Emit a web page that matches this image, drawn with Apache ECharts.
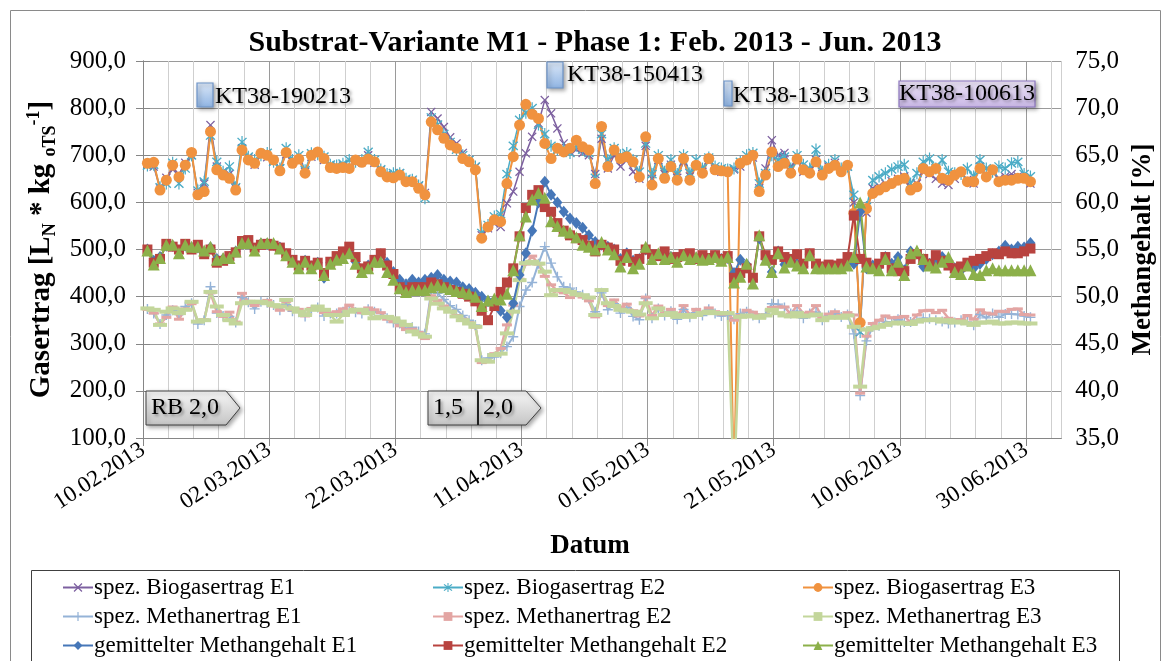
<!DOCTYPE html>
<html>
<head>
<meta charset="utf-8">
<script src="https://cdn.jsdelivr.net/npm/echarts@6/dist/echarts.min.js"></script>
<style>
  html, body { margin: 0; padding: 0; background: #fff; }
  #chart { width: 1165px; height: 661px; }
</style>
</head>
<body>
<div id="chart"></div>
<script>
// day 0 = 10.02.2013, one value per day
const dayOffset = 0.7
const xMax = 145.6

const biogasE1 = [680,676,630,652,670,660,684,700,620,640,
  764,676,665,660,630,715,695,680,700,696,
  688,672,702,686,690,665,697,704,690,678,
  674,678,676,684,690,700,684,668,660,656,
  662,648,646,634,620,792,778,760,738,725,
  705,690,675,530,545,555,548,598,623,665,
  704,739,768,817,789,757,725,707,712,705,
  700,660,735,672,700,676,690,665,650,720,
  650,690,660,680,652,686,655,676,665,690,
  670,665,668,670,676,690,695,630,672,732,
  700,705,676,690,665,668,690,660,676,684,
  670,676,600,325,578,630,635,640,645,650,
  655,632,640,665,660,650,640,637,650,662,
  648,640,676,658,668,650,655,660,655,650,
  640]

const biogasE2 = [678,680,632,640,684,640,672,700,625,644,
  742,686,665,676,632,728,697,690,700,705,
  686,672,715,690,700,668,704,702,697,680,
  678,682,690,686,690,707,690,670,660,662,
  662,650,648,636,609,780,765,745,728,712,
  700,690,676,535,552,570,575,660,720,775,
  790,800,765,745,720,712,715,705,720,712,
  705,652,745,690,715,700,705,690,665,725,
  660,700,665,690,660,700,662,690,672,695,
  676,672,670,672,686,700,705,640,662,700,
  690,697,672,700,680,672,712,665,680,690,
  672,676,616,325,590,647,655,662,670,676,
  680,640,662,686,693,672,690,665,662,660,
  672,655,690,672,665,676,672,683,686,660,
  655]

const biogasE3 = [683,685,626,647,679,654,679,706,616,623,
  750,669,658,651,626,711,690,683,704,700,
  690,667,706,683,692,662,700,707,693,674,
  672,674,672,690,685,692,686,665,654,652,
  658,644,644,630,616,771,754,736,722,715,
  693,686,669,524,548,563,559,640,697,764,
  808,787,778,725,693,715,707,715,732,718,
  711,640,761,676,711,693,697,686,654,739,
  637,693,651,676,647,693,647,679,662,693,
  669,667,665,0,683,690,700,623,658,707,
  676,683,662,692,669,662,686,658,672,679,
  665,679,577,345,587,619,626,633,640,647,
  651,626,633,672,665,672,651,647,658,665,
  644,644,672,654,669,644,647,647,651,651,
  644]

const methaneE1 = [374,364,342,361,371,362,379,386,342,350,
  421,365,359,358,345,398,388,374,389,387,
  382,371,383,369,367,358,371,377,359,364,
  364,368,370,367,364,373,368,364,354,345,
  343,332,335,326,321,412,407,394,381,373,
  360,350,340,265,270,272,280,294,315,379,
  414,430,470,506,471,442,421,418,410,404,
  396,368,408,372,385,365,377,358,351,396,
  354,375,360,369,352,373,356,366,360,373,
  364,359,361,352,364,368,360,354,363,385,
  384,377,364,369,354,364,367,350,360,364,
  357,362,321,190,306,336,338,347,345,352,
  346,346,350,354,353,350,347,343,345,350,
  346,339,362,355,364,356,363,363,362,359,
  356]

const methaneE2 = [373,365,342,356,378,352,374,385,347,351,
  408,368,358,367,346,407,390,381,389,392,
  380,371,390,372,373,359,375,376,366,365,
  368,374,382,372,366,376,372,366,352,347,
  338,330,331,324,311,402,392,380,369,360,
  352,345,335,260,262,279,290,340,382,437,
  469,486,469,443,425,412,408,398,405,399,
  391,357,413,381,393,377,384,370,359,399,
  360,380,364,373,358,381,361,373,366,376,
  368,363,364,350,360,371,367,361,360,377,
  378,378,363,381,364,367,381,354,363,368,
  360,366,361,195,316,343,350,359,355,356,
  358,346,361,370,371,366,371,354,351,351,
  360,352,372,365,363,369,368,373,374,362,
  361]

const methaneE3 = [375,372,340,368,375,365,372,389,347,350,
  410,379,361,350,343,386,389,389,389,386,
  382,379,393,375,368,361,372,379,372,361,
  347,361,368,372,372,365,354,357,357,354,
  347,340,326,320,315,396,385,375,368,358,
  350,343,336,265,262,276,279,322,368,435,
  471,474,470,453,403,414,414,410,405,403,
  398,361,414,386,380,372,370,368,362,386,
  354,375,361,365,357,361,357,361,365,368,
  365,365,365,0,357,360,358,355,360,372,
  365,360,358,365,358,360,362,350,355,357,
  355,360,336,209,330,333,336,340,343,345,
  343,342,347,350,350,352,347,350,345,347,
  343,340,345,345,347,343,343,345,345,343,
  343]

const contentE1 = [55.0,53.8,54.2,55.4,55.4,54.8,55.4,55.2,55.2,54.7,
  55.2,54.0,54.0,54.2,54.8,55.7,55.8,55.0,55.6,55.6,
  55.5,55.2,54.5,53.8,53.2,53.8,53.2,53.6,52.0,53.6,
  54.0,54.3,54.7,53.7,52.8,53.3,53.8,54.5,53.6,52.6,
  51.8,51.3,51.8,51.5,51.8,52.0,52.3,51.8,51.6,51.5,
  51.0,50.8,50.4,50.0,49.5,49.6,48.5,47.8,49.3,52.3,
  54.6,57.0,60.0,62.2,60.8,60.0,59.0,58.3,57.8,57.3,
  56.5,55.8,55.5,55.3,55.0,54.0,54.6,53.8,54.0,55.0,
  54.4,54.4,54.5,54.2,54.0,54.4,54.3,54.1,54.2,54.0,
  54.3,54.0,54.1,52.5,53.9,53.4,51.8,56.2,54.0,52.6,
  54.8,53.4,53.8,53.5,53.2,54.5,53.2,53.1,53.2,53.2,
  53.3,53.6,53.5,59.0,53.0,53.3,53.2,54.2,53.5,54.2,
  52.8,54.8,54.6,53.2,53.5,53.8,54.2,53.8,53.0,52.8,
  53.4,53.0,53.5,54.0,54.5,54.8,55.4,55.0,55.3,55.2,
  55.7]

const contentE2 = [55.0,53.6,54.0,55.6,55.3,55.0,55.6,55.0,55.5,54.5,
  55.0,53.6,53.8,54.3,54.7,55.9,56.0,55.2,55.5,55.6,
  55.4,55.2,54.6,53.9,53.3,53.8,53.3,53.6,52.5,53.7,
  54.3,54.8,55.3,54.2,53.0,53.2,53.9,54.6,53.3,52.4,
  51.0,50.7,51.0,51.0,51.0,51.5,51.3,51.0,50.7,50.5,
  50.3,50.0,49.5,48.5,47.5,49.0,50.5,51.5,53.0,56.4,
  59.4,60.8,61.3,59.5,59.0,57.8,57.0,56.5,56.2,56.0,
  55.4,54.8,55.5,55.2,55.0,53.8,54.5,53.7,54.0,55.0,
  54.5,54.3,54.8,54.0,54.2,54.5,54.6,54.0,54.4,54.1,
  54.4,54.0,54.3,52.0,52.5,53.0,52.0,56.4,54.4,53.9,
  54.8,54.2,54.0,54.5,53.5,54.6,53.5,53.2,53.4,53.3,
  53.5,54.2,58.6,54.0,53.6,53.0,53.5,54.2,53.0,52.7,
  52.7,54.0,54.5,54.0,53.5,54.4,53.8,53.3,53.0,53.2,
  53.6,53.8,54.0,54.3,54.6,54.5,54.8,54.6,54.6,54.8,
  55.1]

const contentE3 = [54.9,53.4,54.1,55.5,55.5,54.6,55.5,55.3,55.3,54.9,
  55.3,53.9,54.1,54.1,54.8,55.7,55.7,54.9,55.7,55.7,
  55.7,55.1,54.4,53.7,53.0,53.7,53.0,53.5,52.3,53.5,
  53.9,54.1,54.6,53.5,52.6,53.0,53.7,53.7,52.6,51.8,
  50.9,50.5,50.7,50.7,50.7,51.0,51.2,51.0,50.8,50.6,
  50.5,50.3,50.0,49.0,49.6,49.8,49.7,50.3,52.8,56.5,
  58.5,60.3,61.0,60.5,58.0,57.5,57.0,56.8,56.3,55.5,
  55.3,55.0,55.8,55.0,54.5,53.2,54.2,53.0,53.5,55.3,
  54.0,54.6,54.0,54.2,53.7,54.4,54.0,54.2,53.9,54.0,
  54.2,53.8,54.2,51.5,52.1,53.5,51.4,56.5,53.9,52.6,
  54.6,53.1,53.7,53.3,53.0,54.4,53.0,53.0,53.0,53.0,
  53.0,53.3,54.2,60.0,53.2,53.0,52.8,54.0,52.8,53.7,
  52.3,54.6,54.9,54.0,53.3,53.1,53.7,54.2,52.6,52.4,
  53.3,52.4,52.3,52.8,53.0,52.8,52.8,52.8,52.8,52.8,
  52.8]

const seriesNames = [
  'spez. Biogasertrag E1', 'spez. Biogasertrag E2', 'spez. Biogasertrag E3',
  'spez. Methanertrag E1', 'spez. Methanertrag E2', 'spez. Methanertrag E3',
  'gemittelter Methangehalt E1', 'gemittelter Methangehalt E2', 'gemittelter Methangehalt E3',
]

const SERIF = '"Liberation Serif", "Times New Roman", serif'
const GRID_DARK = '#9a9a9a'
const GRID_LIGHT = '#cfcfcf'

const SYM_X = 'path://M0,1L1,0L5,4L9,0L10,1L6,5L10,9L9,10L5,6L1,10L0,9L4,5Z'
const SYM_STAR = 'path://M0,1L1,0L5,4L9,0L10,1L6,5L10,9L9,10L5,6L1,10L0,9L4,5Z M4.4,-1.5L5.6,-1.5L5.6,11.5L4.4,11.5Z'
const SYM_PLUS = 'path://M4.3,0L5.7,0L5.7,4.3L10,4.3L10,5.7L5.7,5.7L5.7,10L4.3,10L4.3,5.7L0,5.7L0,4.3L4.3,4.3Z'

const pad2 = (n) => (n < 10 ? '0' : '') + n
const dayLabel = (d) => {
  if (Math.abs(d % 20) > 1e-6) return ''
  const dt = new Date(2013, 1, 10 + d)
  return pad2(dt.getDate()) + '.' + pad2(dt.getMonth() + 1) + '.' + dt.getFullYear()
}
const comma1 = (v) => v.toFixed(1).replace('.', ',')
const toPoints = (values) => values.map((v, i) => [i + dayOffset, v])

const makeSeries = (name, values, yAxisIndex, color, symbol, symbolSize, lineWidth) => ({
  name,
  type: 'line',
  xAxisIndex: 0,
  yAxisIndex,
  data: toPoints(values),
  symbol,
  symbolSize,
  showAllSymbol: true,
  lineStyle: { color, width: lineWidth },
  itemStyle: { color },
  emphasis: { disabled: true },
  animation: false,
})

const series = [
  makeSeries(seriesNames[0], biogasE1, 0, '#7d60a0', SYM_X, 9, 1.5),
  makeSeries(seriesNames[1], biogasE2, 0, '#4bacc6', SYM_STAR, [10, 12], 1.5),
  makeSeries(seriesNames[2], biogasE3, 0, '#f0923f', 'circle', 11, 2),
  makeSeries(seriesNames[3], methaneE1, 0, '#95b3d7', SYM_PLUS, 10, 2),
  makeSeries(seriesNames[4], methaneE2, 0, '#e3a5a3', 'rect', [10, 3], 2.5),
  makeSeries(seriesNames[5], methaneE3, 0, '#c3d69b', 'rect', [14, 4], 2.5),
  makeSeries(seriesNames[6], contentE1, 1, '#4677b8', 'diamond', [10, 12], 2),
  makeSeries(seriesNames[7], contentE2, 1, '#b8433f', 'rect', 10, 2),
  makeSeries(seriesNames[8], contentE3, 1, '#8cb04a', 'triangle', 12, 2),
]

// one legend per entry, laid out as 3 columns x 3 rows
const legendCols = [62, 432, 802]
const legendRows = [576, 605, 634]
const legends = seriesNames.map((name, k) => ({
  left: legendCols[k % 3],
  top: legendRows[Math.floor(k / 3)],
  padding: 0,
  itemWidth: 30,
  itemHeight: 11,
  data: [name],
  textStyle: { fontFamily: SERIF, fontSize: 23, color: '#000', padding: [0, 0, 0, -4] },
  selectedMode: false,
}))

const annotationBox = (x, y, w, h, top, bottom, stroke) => ({
  type: 'rect',
  shape: { x, y, width: w, height: h },
  style: {
    fill: new echarts.graphic.LinearGradient(0, 0, 0, 1, [
      { offset: 0, color: top },
      { offset: 1, color: bottom },
    ]),
    stroke,
    lineWidth: 1.2,
    shadowBlur: 4,
    shadowOffsetX: 2,
    shadowOffsetY: 2,
    shadowColor: 'rgba(0,0,0,0.35)',
  },
  z: 100,
})

const annotationText = (x, y, text, align) => ({
  type: 'text',
  x,
  y,
  style: {
    text,
    fontFamily: SERIF,
    fontSize: 24,
    fill: '#000',
    align: align || 'left',
    verticalAlign: 'middle',
    textShadowColor: 'rgba(0,0,0,0.35)',
    textShadowBlur: 3,
    textShadowOffsetX: 2,
    textShadowOffsetY: 2,
  },
  z: 101,
})

const grayFill = () => new echarts.graphic.LinearGradient(0, 0, 0, 1, [
  { offset: 0, color: '#f7f7f7' },
  { offset: 1, color: '#c4c4c4' },
])

const phaseShape = (points) => ({
  type: 'polygon',
  shape: { points },
  style: {
    fill: grayFill(),
    stroke: '#404040',
    lineWidth: 1,
    shadowBlur: 4,
    shadowOffsetX: 2,
    shadowOffsetY: 2,
    shadowColor: 'rgba(0,0,0,0.35)',
  },
  z: 100,
})

const option = {
  animation: false,
  backgroundColor: '#fff',
  title: {
    text: 'Substrat-Variante M1 - Phase 1: Feb. 2013 - Jun. 2013',
    left: 590,
    top: 23,
    textAlign: 'center',
    textStyle: { fontFamily: SERIF, fontSize: 30, fontWeight: 'bold', color: '#000' },
  },
  grid: { left: 143, right: 102, top: 61, bottom: 223 },
  legend: legends,
  xAxis: [
    {
      type: 'value',
      min: 0,
      max: xMax,
      interval: 4,
      position: 'bottom',
      axisLine: { show: false },
      axisTick: { show: false },
      axisLabel: { show: false },
      splitLine: {
        show: true,
        lineStyle: { color: [GRID_DARK, GRID_LIGHT, GRID_LIGHT, GRID_LIGHT, GRID_LIGHT], width: 1 },
      },
    },
    {
      type: 'value',
      min: 0,
      max: xMax,
      interval: 20,
      position: 'bottom',
      axisLine: { show: true, lineStyle: { color: '#868686' } },
      axisTick: { show: true, length: 8, lineStyle: { color: '#868686' } },
      axisLabel: {
        rotate: 33,
        margin: 10,
        formatter: dayLabel,
        fontFamily: SERIF,
        fontSize: 23,
        color: '#000',
        showMaxLabel: false,
      },
      splitLine: { show: false },
    },
  ],
  yAxis: [
    {
      type: 'value',
      min: 100,
      max: 900,
      interval: 100,
      axisLine: { show: true, lineStyle: { color: '#868686' } },
      axisTick: { show: true, length: 7, lineStyle: { color: '#868686' } },
      axisLabel: { formatter: comma1, fontFamily: SERIF, fontSize: 25, color: '#000', margin: 17 },
      splitLine: { show: true, lineStyle: { color: GRID_DARK } },
      name: '{b|Gasertrag [L}{sub|N}{b| * kg }{sub|oTS}{sup|-1}{b|]}',
      nameLocation: 'middle',
      nameRotate: 90,
      nameGap: 84,
      nameTextStyle: {
        rich: {
          b: { fontFamily: SERIF, fontSize: 29, fontWeight: 'bold', color: '#000', lineHeight: 34 },
          sub: { fontFamily: SERIF, fontSize: 18, fontWeight: 'bold', color: '#000', verticalAlign: 'bottom' },
          sup: { fontFamily: SERIF, fontSize: 18, fontWeight: 'bold', color: '#000', verticalAlign: 'top' },
        },
      },
    },
    {
      type: 'value',
      min: 35,
      max: 75,
      interval: 5,
      position: 'right',
      axisLine: { show: true, lineStyle: { color: '#868686' } },
      axisTick: { show: true, length: 7, lineStyle: { color: '#868686' } },
      axisLabel: { formatter: comma1, fontFamily: SERIF, fontSize: 25, color: '#000', margin: 14 },
      splitLine: { show: false },
      name: 'Methangehalt [%]',
      nameLocation: 'middle',
      nameRotate: 90,
      nameGap: 66,
      nameTextStyle: { fontFamily: SERIF, fontSize: 27, fontWeight: 'bold', color: '#000' },
    },
  ],
  graphic: [
    {
      type: 'rect',
      shape: { x: 10.5, y: 10.5, width: 1150, height: 660 },
      style: { fill: 'none', stroke: '#8a8a8a', lineWidth: 1 },
      silent: true,
      z: -10,
    },
    {
      type: 'rect',
      shape: { x: 31.5, y: 570.5, width: 1088, height: 100 },
      style: { fill: 'none', stroke: '#404040', lineWidth: 1 },
      silent: true,
    },
    {
      type: 'text',
      x: 590,
      y: 546,
      style: { text: 'Datum', fontFamily: SERIF, fontSize: 27, fontWeight: 'bold', fill: '#000', align: 'center', verticalAlign: 'middle' },
    },
    annotationBox(197, 83, 16, 24, '#dce8f8', '#8fb4e3', '#6d93c8'),
    annotationText(215, 97, 'KT38-190213'),
    annotationBox(547, 62, 16, 26, '#dce8f8', '#8fb4e3', '#6d93c8'),
    annotationText(567, 75, 'KT38-150413'),
    annotationBox(724, 81, 8, 25, '#dce8f8', '#8fb4e3', '#6d93c8'),
    annotationText(733, 96, 'KT38-130513'),
    annotationBox(899, 81, 136, 26, '#ece4f6', '#c9b7e6', '#8c76bf'),
    annotationText(967, 94, 'KT38-100613', 'center'),
    phaseShape([[146, 391], [226, 391], [240, 408], [226, 425], [146, 425]]),
    annotationText(151, 408, 'RB 2,0'),
    phaseShape([[428, 391], [478, 391], [478, 425], [428, 425]]),
    phaseShape([[478, 391], [526, 391], [541, 408], [526, 425], [478, 425]]),
    {
      type: 'line',
      shape: { x1: 478, y1: 391, x2: 478, y2: 425 },
      style: { stroke: '#202020', lineWidth: 2 },
      z: 102,
    },
    annotationText(433, 408, '1,5'),
    annotationText(483, 408, '2,0'),
  ],
  series,
}

const chart = echarts.init(document.getElementById('chart'), null, { renderer: 'canvas' })
chart.setOption(option)
</script>
</body>
</html>
